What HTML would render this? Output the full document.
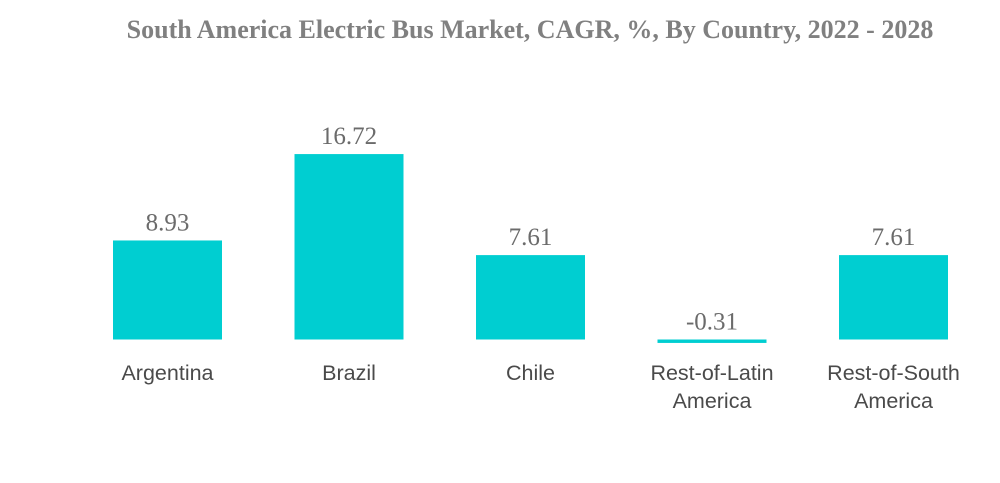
<!DOCTYPE html>
<html><head><meta charset="utf-8"><style>
html,body{margin:0;padding:0;background:#fff;width:1000px;height:483px;overflow:hidden}
</style></head><body>
<svg width="1000" height="483" xmlns="http://www.w3.org/2000/svg">
<text x="530" y="38" text-anchor="middle" font-family="Liberation Serif, serif" font-weight="bold" font-size="26" fill="#808080">South America Electric Bus Market, CAGR, %, By Country, 2022 - 2028</text>
<g id="bars"></g>
</svg>
<script>
const categories = [["Argentina"],["Brazil"],["Chile"],["Rest-of-Latin","America"],["Rest-of-South","America"]];
const values = [8.93, 16.72, 7.61, -0.31, 7.61];
const labels = ["8.93","16.72","7.61","-0.31","7.61"];
const baseY = 339.5, pxPerUnit = 11.09, x0 = 113, step = 181.5, bw = 109;
function yScale(v){return baseY - v*pxPerUnit;}
function xScale(i){return x0 + i*step;}
const g = document.getElementById('bars');
const NS = "http://www.w3.org/2000/svg";
values.forEach((v,i)=>{
  const r = document.createElementNS(NS,'rect');
  
  
  const y1 = Math.min(yScale(v), baseY), y2 = Math.max(yScale(v), baseY);
  r.setAttribute('x', xScale(i)); r.setAttribute('y', y1);
  r.setAttribute('width', bw); r.setAttribute('height', Math.max(y2-y1,1));
  r.setAttribute('fill','#00ced1');
  g.appendChild(r);
  const t = document.createElementNS(NS,'text');
  
  
  t.setAttribute('x', xScale(i)+bw/2);
  t.setAttribute('y', Math.min(yScale(v), baseY) - 10);
  t.setAttribute('text-anchor','middle');
  t.setAttribute('font-family','Liberation Serif, serif');
  t.setAttribute('font-size','25');
  t.setAttribute('fill','#6b6b6b');
  t.textContent = labels[i];
  g.appendChild(t);
  categories[i].forEach((line,j)=>{
    const c = document.createElementNS(NS,'text');
    
    
    c.setAttribute('x', xScale(i)+bw/2);
    c.setAttribute('y', 380 + j*28);
    c.setAttribute('text-anchor','middle');
    c.setAttribute('font-family','Liberation Sans, sans-serif');
    c.setAttribute('font-size','21.5');
    c.setAttribute('fill','#4a4a4a');
    c.textContent = line;
    g.appendChild(c);
  });
});
</script>
</body></html>
